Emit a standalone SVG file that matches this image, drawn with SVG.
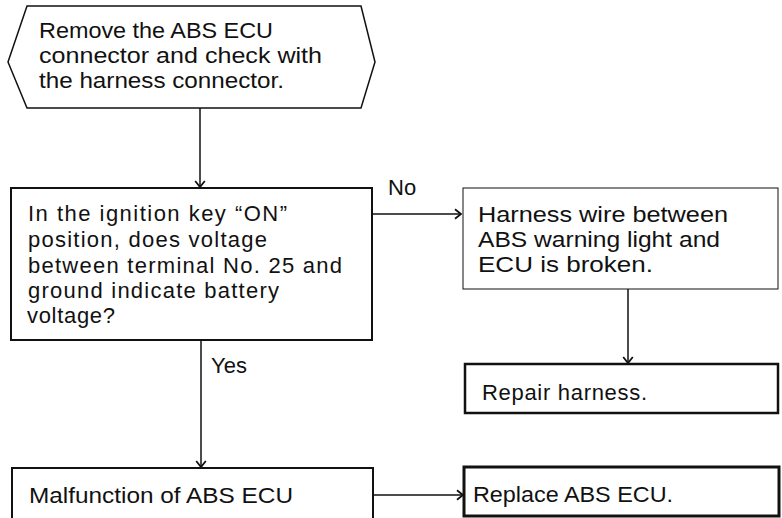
<svg xmlns="http://www.w3.org/2000/svg" width="782" height="518" viewBox="0 0 782 518">
<style>
.box{fill:#fff;stroke:#111}
.t{font-family:"Liberation Sans",Arial,sans-serif;font-size:22px;fill:#111}
.g{font-family:"Liberation Sans",Arial,sans-serif;font-size:22px;fill:#111}
.c{fill:none;stroke:#111;stroke-width:1.5}
</style>
<defs>
<marker id="ah" markerUnits="userSpaceOnUse" markerWidth="12" markerHeight="12" refX="8" refY="5" orient="auto" viewBox="0 0 10 10">
<path d="M3,1 L8,5 L3,9" fill="none" stroke="#111" stroke-width="1.5"/>
</marker>
</defs>
<rect width="782" height="518" fill="#fff"/>
<g id="start">
<path class="box" stroke-width="1.5" d="M27,6 L361,6 L375,62 L361,108 L27,108 L8,62 Z"/>
<text class="g" x="39" y="38" textLength="234" lengthAdjust="spacingAndGlyphs">Remove the ABS ECU</text>
<text class="g" x="39" y="63" textLength="283" lengthAdjust="spacingAndGlyphs">connector and check with</text>
<text class="g" x="39" y="88" textLength="245" lengthAdjust="spacingAndGlyphs">the harness connector.</text>
</g>
<g id="decision">
<rect class="box" stroke-width="2" x="11" y="188" width="361" height="152"/>
<text class="t" x="28" y="221" textLength="259" lengthAdjust="spacing">In the ignition key “ON”</text>
<text class="t" x="28" y="247" textLength="239" lengthAdjust="spacing">position, does voltage</text>
<text class="t" x="28" y="273" textLength="314" lengthAdjust="spacing">between terminal No. 25 and</text>
<text class="t" x="28" y="298" textLength="251" lengthAdjust="spacing">ground indicate battery</text>
<text class="t" x="27" y="323" textLength="88" lengthAdjust="spacing">voltage?</text>
</g>
<g id="harness">
<rect class="box" stroke-width="1" x="463" y="188" width="315" height="101"/>
<text class="g" x="478" y="222" textLength="250" lengthAdjust="spacingAndGlyphs">Harness wire between</text>
<text class="g" x="478" y="247" textLength="242" lengthAdjust="spacingAndGlyphs">ABS warning light and</text>
<text class="g" x="478" y="272" textLength="175" lengthAdjust="spacingAndGlyphs">ECU is broken.</text>
</g>
<g id="repair">
<rect class="box" stroke-width="2.5" x="465" y="364" width="313" height="49"/>
<text class="t" x="482" y="400" textLength="165" lengthAdjust="spacing">Repair harness.</text>
</g>
<g id="malfunction">
<rect class="box" stroke-width="2" x="12" y="468" width="361" height="60"/>
<text class="t" x="29" y="503" font-size="23" textLength="264" lengthAdjust="spacingAndGlyphs">Malfunction of ABS ECU</text>
</g>
<g id="replace">
<rect class="box" stroke-width="3" x="464" y="467" width="315" height="49"/>
<text class="t" x="473" y="502" font-size="23" textLength="200" lengthAdjust="spacingAndGlyphs">Replace ABS ECU.</text>
</g>
<g id="connectors">
<line class="c" x1="200" y1="108" x2="200" y2="187" marker-end="url(#ah)"/>
<line class="c" x1="372" y1="214" x2="461" y2="214" marker-end="url(#ah)"/>
<line class="c" x1="628" y1="289" x2="628" y2="363" marker-end="url(#ah)"/>
<line class="c" x1="201" y1="340" x2="201" y2="467" marker-end="url(#ah)"/>
<line class="c" stroke-width="2.5" x1="373" y1="495" x2="463" y2="495" marker-end="url(#ah)"/>
<text class="t" x="388" y="195">No</text>
<text class="t" x="211" y="373">Yes</text>
</g>
</svg>
